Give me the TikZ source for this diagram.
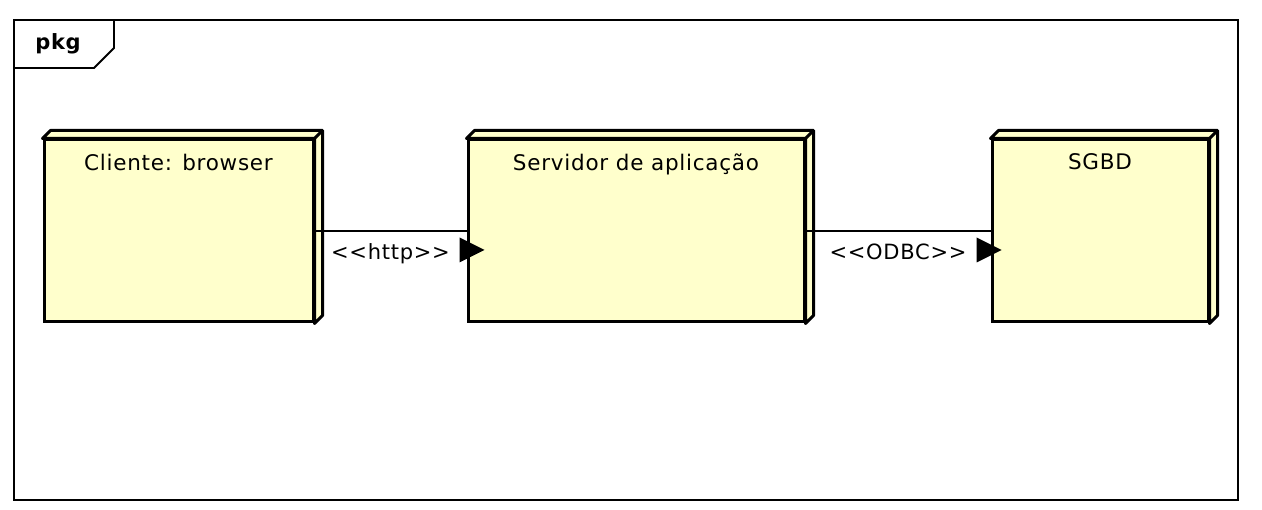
\documentclass[tikz,border=0pt]{standalone}
\usepackage{fontspec}
\setmainfont[LetterSpace=3.5]{DejaVu Sans}
\usetikzlibrary{positioning}
\definecolor{nodefill}{RGB}{255,255,204}

\begin{document}
\begin{tikzpicture}[
  x=1pt,y=-1pt,
  font=\fontsize{21.5}{24}\selectfont,
  nodebox/.style={draw,fill=nodefill,line width=3pt,minimum height=182pt,inner sep=0pt},
  ]
  \tikzset{%
    conn/.style={line width=1.4pt},
    connlabel/.style={inner sep=0pt,font=\fontsize{21}{24}\selectfont},
    dirmark/.style={fill=black},
  }
  \useasboundingbox (0,0) rectangle (1262,510);
  %Frame
  \draw[line width=2.2pt] (14,20) rectangle (1238,500);
  \draw[line width=1.8pt] (14,68) -- (94,68) -- (114,48) -- (114,20);
  \node[font=\bfseries\fontsize{21}{24}\selectfont](pkg) at (58,44){pkg};
  %Nodes
  \node[nodebox,minimum width=269pt,label={[below=12pt]north:{Cliente: browser}}](client) at (178.5,231){};
  \node[nodebox,minimum width=336pt,label={[below=12pt]north:{Servidor de aplicação}}](server) at (636,231){};
  \node[nodebox,minimum width=216pt,label={[below=12pt]north:{SGBD}}](sgbd) at (1100,231){};
  % 3D sides
  \foreach \n in {client,server,sgbd}{
    \filldraw[fill=nodefill,line width=3pt,line join=round]
      (\n.north west) -- ++(8,-8) -- ([shift={(8,-8)}]\n.north east)
      -- ([shift={(8,-8)}]\n.south east) -- (\n.south east) -- (\n.north east) -- cycle;
    \draw[line width=3pt] (\n.north east) -- ++(8,-8);
  }
  %Lines
  \draw[conn] (client) -- node[connlabel,below=12pt](http){<{}<http>{}>} (server);
  \draw[conn] (server) -- node[connlabel,below=12pt](odbc){<{}<ODBC>{}>} (sgbd);
  % direction marks
  \coordinate (m1) at ([shift={(-7,19)}]server.west);
  \coordinate (m2) at ([shift={(-14,19)}]sgbd.west);
  \foreach \m in {m1,m2}
    \fill[dirmark] (\m) ++(0,-12.5) -- ++(25,12.5) -- ++(-25,12.5) -- cycle;
\end{tikzpicture}
\end{document}
